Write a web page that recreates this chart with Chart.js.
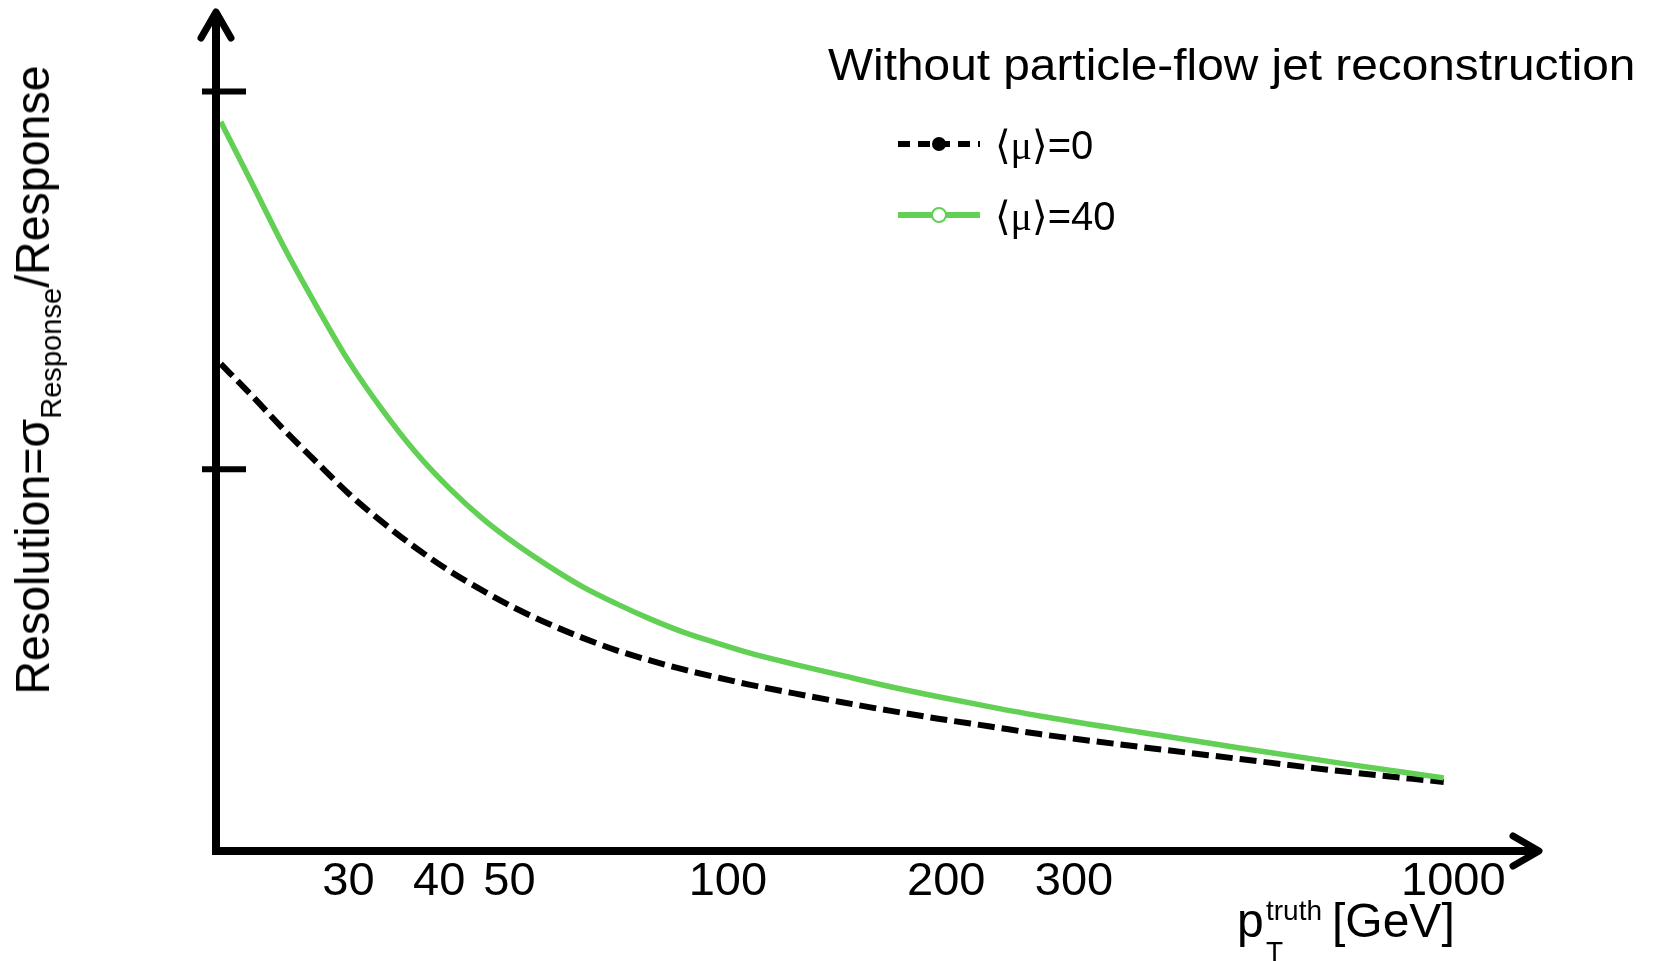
<!DOCTYPE html>
<html>
<head>
<meta charset="utf-8">
<script src="https://cdn.jsdelivr.net/npm/chart.js@4.4.1/dist/chart.umd.min.js"></script>
<style>
html, body { margin: 0; padding: 0; background: #fff; overflow: hidden; }
#wrap { position: relative; width: 1654px; height: 961px; }
#plot { position: absolute; left: 0; top: 0; }
.txt { position: absolute; white-space: nowrap; color: #000; line-height: 1;
       font-family: "Liberation Sans", Arial, sans-serif; transform-origin: 0 0; }
.mu { font-family: "Liberation Serif", "DejaVu Serif", "DejaVu Sans", serif; }
#ytitle { transform-origin: 50% 50%; }
#ytitle .sub { font-size: 30px; position: relative; top: 12px; }
</style>
</head>
<body>
<div id="wrap">
  <canvas id="plot" width="1654" height="961"></canvas>
  <div class="txt" id="title" style="font-size:44px; left:828px; top:43px;">Without particle-flow jet reconstruction</div>
  <div class="txt" id="leg0" style="font-size:40px; left:995px; top:125px;"><span class="mu">⟨μ⟩</span>=0</div>
  <div class="txt" id="leg1" style="font-size:40px; left:995px; top:196px;"><span class="mu">⟨μ⟩</span>=40</div>
  <div class="txt" id="ytitle" style="font-size:48px; left:33px; top:380px;">Resolution=σ<span class="sub">Response</span>/Response</div>
  <div class="txt" style="font-size:48px; left:1237px; top:897px;">p</div>
  <div class="txt" style="font-size:28px; left:1266px; top:897px;">truth</div>
  <div class="txt" style="font-size:28px; left:1266px; top:938px;">T</div>
  <div class="txt" style="font-size:48px; left:1332px; top:897px;">[GeV]</div>
</div>
<script>
// pT truth values (GeV) and the resolution
var pT = [20, 22, 24.4, 27.1, 30, 33.5, 37.2, 41.4, 46, 51.2, 56.9, 63.2, 70.4, 78.1, 86.8,
          96.6, 107, 124, 143, 167, 196, 230, 269, 370, 508, 698, 970];
var resMu0 = [0.1279, 0.1198, 0.1106, 0.1019, 0.0936, 0.0858, 0.0791, 0.0730, 0.0678, 0.0630,
              0.0589, 0.0553, 0.0520, 0.0494, 0.0470, 0.0449, 0.0430, 0.0406, 0.0384, 0.0361,
              0.0339, 0.0319, 0.0299, 0.0265, 0.0233, 0.0201, 0.0172];
var resMu40 = [0.1920, 0.1763, 0.1591, 0.1432, 0.1287, 0.1154, 0.1043, 0.0948, 0.0868, 0.0800,
               0.0741, 0.0688, 0.0643, 0.0604, 0.0569, 0.0540, 0.0514, 0.0483, 0.0455, 0.0425,
               0.0397, 0.0371, 0.0347, 0.0304, 0.0262, 0.0222, 0.0183];
var xTicks = [30, 40, 50, 100, 200, 300, 1000];
var yTicks = [0.1, 0.2];

var green = '#62cf55';

function pairs(xs, ys) {
  var out = [];
  for (var i = 0; i < xs.length; i++) out.push({x: xs[i], y: ys[i]});
  return out;
}

// stretch html text to the width it has in the picture
function fitWidth(id, w) {
  var el = document.getElementById(id);
  var s = w / el.offsetWidth;
  if (id == 'ytitle') el.style.transform = 'translate(-50%,-50%) rotate(-90deg) scaleX(' + s + ')';
  else el.style.transform = 'scaleX(' + s + ')';
}
fitWidth('title', 807);
fitWidth('ytitle', 629);

// arrows, y tick marks and the legend symbols
var decor = {
  id: 'decor',
  afterDraw: function(chart) {
    var ctx = chart.ctx, area = chart.chartArea, y = chart.scales.y;
    var x0 = area.left, y0 = area.bottom + 4;
    ctx.save();
    ctx.strokeStyle = '#000';
    ctx.lineWidth = 8;
    ctx.beginPath();
    ctx.moveTo(x0, y0 + 4); ctx.lineTo(x0, 12);
    ctx.moveTo(x0 - 4, y0); ctx.lineTo(1539, y0);
    ctx.stroke();

    ctx.lineWidth = 7;
    ctx.lineCap = 'round';
    ctx.lineJoin = 'round';
    ctx.beginPath();
    ctx.moveTo(x0 - 15, 38); ctx.lineTo(x0, 12); ctx.lineTo(x0 + 15, 38);
    ctx.moveTo(1513, y0 - 15); ctx.lineTo(1539, y0); ctx.lineTo(1513, y0 + 15);
    ctx.stroke();

    ctx.lineCap = 'butt';
    ctx.lineWidth = 6;
    ctx.beginPath();
    yTicks.forEach(function(v) {
      var py = y.getPixelForValue(v);
      ctx.moveTo(x0 - 14, py); ctx.lineTo(x0 + 30, py);
    });
    ctx.stroke();

    // legend
    ctx.setLineDash([12, 8]);
    ctx.lineWidth = 6;
    ctx.beginPath();
    ctx.moveTo(898, 144); ctx.lineTo(980, 144);
    ctx.stroke();
    ctx.setLineDash([]);
    ctx.fillStyle = '#000';
    ctx.beginPath(); ctx.arc(939, 144, 7, 0, Math.PI * 2); ctx.fill();

    ctx.strokeStyle = green;
    ctx.beginPath();
    ctx.moveTo(898, 215); ctx.lineTo(980, 215);
    ctx.stroke();
    ctx.fillStyle = '#fff';
    ctx.lineWidth = 2;
    ctx.beginPath(); ctx.arc(939, 215, 7, 0, Math.PI * 2); ctx.fill(); ctx.stroke();
    ctx.restore();
  }
};

var chart = new Chart(document.getElementById('plot'), {
  type: 'line',
  data: {
    datasets: [
      {
        label: '<μ>=0',
        data: pairs(pT, resMu0),
        borderColor: '#000',
        borderWidth: 6,
        borderDash: [17, 7],
        pointRadius: 0,
        cubicInterpolationMode: 'monotone',
        order: 1
      },
      {
        label: '<μ>=40',
        data: pairs(pT, resMu40),
        borderColor: green,
        borderWidth: 5.5,
        pointRadius: 0,
        cubicInterpolationMode: 'monotone',
        order: 0
      }
    ]
  },
  options: {
    responsive: false,
    animation: false,
    layout: { padding: { left: 216, right: 118, top: 16, bottom: 0 } },
    plugins: { legend: { display: false }, tooltip: { enabled: false } },
    scales: {
      x: {
        type: 'logarithmic',
        min: 19.7,
        max: 1300,
        grid: { display: false, drawTicks: false },
        border: { display: false },
        afterBuildTicks: function(scale) {
          scale.ticks = xTicks.map(function(v) { return {value: v}; });
        },
        afterFit: function(scale) { scale.height = 114; },
        ticks: {
          autoSkip: false,
          maxRotation: 0,
          padding: 7,
          color: '#000',
          font: { family: 'Liberation Sans', size: 47 },
          callback: function(v) { return String(v); }
        }
      },
      y: {
        display: false,
        min: 0,
        max: 0.22
      }
    }
  },
  plugins: [decor]
});
</script>
</body>
</html>
